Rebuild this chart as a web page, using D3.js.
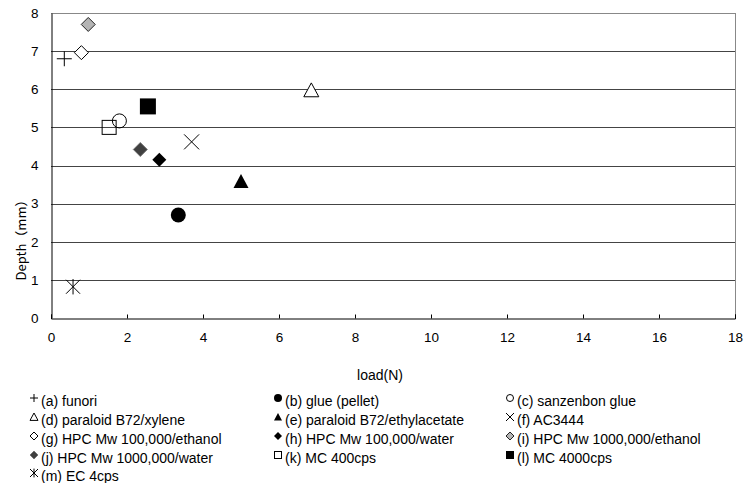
<!DOCTYPE html>
<html><head><meta charset="utf-8">
<script src="https://cdn.jsdelivr.net/npm/d3@7"></script>
<style>
body{margin:0;background:#fff;}
svg{display:block;}
text{font-family:"Liberation Sans",Arial,sans-serif;fill:#000;}
</style></head>
<body>
<svg id="c" width="749" height="483"></svg>
<script>
const labels = ["(a) funori","(b) glue (pellet)","(c) sanzenbon glue","(d) paraloid B72/xylene","(e) paraloid B72/ethylacetate","(f) AC3444","(g) HPC Mw 100,000/ethanol","(h) HPC Mw 100,000/water","(i)  HPC Mw 1000,000/ethanol","(j)  HPC Mw 1000,000/water","(k) MC 400cps","(l) MC 4000cps","(m) EC 4cps"];
const loadN  = [0.35, 3.35, 1.8, 6.85, 5.0, 3.7, 0.8, 2.85, 0.98, 2.35, 1.53, 2.55, 0.58];
const depth  = [6.8, 2.7, 5.17, 5.97, 3.58, 4.62, 6.96, 4.15, 7.7, 4.42, 5.0, 5.55, 0.82];
const markers = ["plus","circleF","circleO","triO","triF","cross","diaO","diaF","diaG","diaD","sqO","sqF","star"];
const xTicks = [0,2,4,6,8,10,12,14,16,18];
const yTicks = [0,1,2,3,4,5,6,7,8];

const svg = d3.select("#c");
const x = d3.scaleLinear().domain([0,18]).range([51,735]);
const y = d3.scaleLinear().domain([0,8]).range([318,13]);

// gridlines
svg.append("g").selectAll("line").data(yTicks.filter(d=>d>0)).join("line")
  .attr("x1",x(0)).attr("x2",x(18))
  .attr("y1",d=>Math.round(y(d))+0.5).attr("y2",d=>Math.round(y(d))+0.5)
  .attr("stroke",d=>d===8?"#888":"#444").attr("stroke-width",1);
// right border
svg.append("line").attr("x1",x(18)+0.5).attr("x2",x(18)+0.5).attr("y1",Math.round(y(8))).attr("y2",y(0))
  .attr("stroke","#888");

// axes
const xAxis = d3.axisBottom(x).tickValues(xTicks).tickSize(-4).tickPadding(14);
const gx = svg.append("g").attr("transform",`translate(0,${Math.round(y(0))+0.5})`).call(xAxis);
gx.select(".domain").attr("stroke","#000");
gx.selectAll(".tick line").attr("stroke","#000");
gx.selectAll("text").attr("font-size",13.5).attr("fill","#000");

const yAxis = d3.axisLeft(y).tickValues(yTicks).tickSize(0).tickPadding(13);
const gy = svg.append("g").attr("transform",`translate(${Math.round(x(0))+0.5},0)`).call(yAxis);
gy.select(".domain").attr("stroke","#000");
gy.selectAll("text").attr("font-size",13.5).attr("fill","#000");
gx.selectAll("text").style("font-family","'Liberation Sans',Arial,sans-serif");
gy.selectAll("text").style("font-family","'Liberation Sans',Arial,sans-serif");

// axis titles
svg.append("text").attr("x",380).attr("y",380).attr("text-anchor","middle")
  .attr("font-size",14).text("load(N)");
svg.append("text").attr("transform",`translate(26,237) rotate(-90)`)
  .attr("text-anchor","middle").attr("font-size",13)
  .style("font-family","'Noto Sans CJK JP','Liberation Sans',sans-serif").text("Depth（mm）");

function drawMarker(g, type, s){
  const h = s/2;
  switch(type){
    case "plus":
      g.append("path").attr("d",`M${-h},0H${h}M0,${-h}V${h}`).attr("stroke","#000").attr("stroke-width",1).attr("fill","none"); break;
    case "cross":
      g.append("path").attr("d",`M${-h},${-h}L${h},${h}M${-h},${h}L${h},${-h}`).attr("stroke","#000").attr("stroke-width",1).attr("fill","none"); break;
    case "star":
      g.append("path").attr("d",`M${-h},${-h}L${h},${h}M${-h},${h}L${h},${-h}M0,${-h*1.1}V${h*1.1}`).attr("stroke","#000").attr("stroke-width",1).attr("fill","none"); break;
    case "circleF":
      g.append("circle").attr("r",h).attr("fill","#000"); break;
    case "circleO":
      g.append("circle").attr("r",h-0.5).attr("fill","none").attr("stroke","#000"); break;
    case "triO":
      g.append("path").attr("d",`M0,${-h}L${h},${h*0.85}L${-h},${h*0.85}Z`).attr("fill","#fff").attr("stroke","#000"); break;
    case "triF":
      g.append("path").attr("d",`M0,${-h}L${h},${h*0.85}L${-h},${h*0.85}Z`).attr("fill","#000"); break;
    case "diaO":
      g.append("path").attr("d",`M0,${-h}L${h},0L0,${h}L${-h},0Z`).attr("fill","#fff").attr("stroke","#000"); break;
    case "diaF":
      g.append("path").attr("d",`M0,${-h}L${h},0L0,${h}L${-h},0Z`).attr("fill","#000"); break;
    case "diaG":
      g.append("path").attr("d",`M0,${-h}L${h},0L0,${h}L${-h},0Z`).attr("fill","#b4b4b4").attr("stroke","#222"); break;
    case "diaD":
      g.append("path").attr("d",`M0,${-h}L${h},0L0,${h}L${-h},0Z`).attr("fill","#404040").attr("stroke","#777"); break;
    case "sqO":
      g.append("rect").attr("x",-h+0.5).attr("y",-h+0.5).attr("width",s-1).attr("height",s-1).attr("fill","none").attr("stroke","#000"); break;
    case "sqF":
      g.append("rect").attr("x",-h).attr("y",-h).attr("width",s).attr("height",s).attr("fill","#000"); break;
  }
}

const sizes = {plus:15,cross:15,star:14,circleF:15,circleO:15,triO:15,triF:15,diaO:14,diaF:14,diaG:14,diaD:14,sqO:15,sqF:16};
labels.forEach((l,i)=>{
  const g = svg.append("g").attr("transform",`translate(${x(loadN[i])},${y(depth[i])})`);
  drawMarker(g, markers[i], sizes[markers[i]]);
});

// legend
const colX = [34, 278, 510];
const rowY = [401, 420, 439, 458, 476];
labels.forEach((l,i)=>{
  const c = i%3, r = Math.floor(i/3);
  const g = svg.append("g").attr("transform",`translate(${colX[c]},${rowY[r]-3})`);
  drawMarker(g, markers[i], 8);
  svg.append("text").attr("x",colX[c]+7).attr("y",rowY[r]+5).attr("font-size",14).text(l);
});
</script>
</body></html>
